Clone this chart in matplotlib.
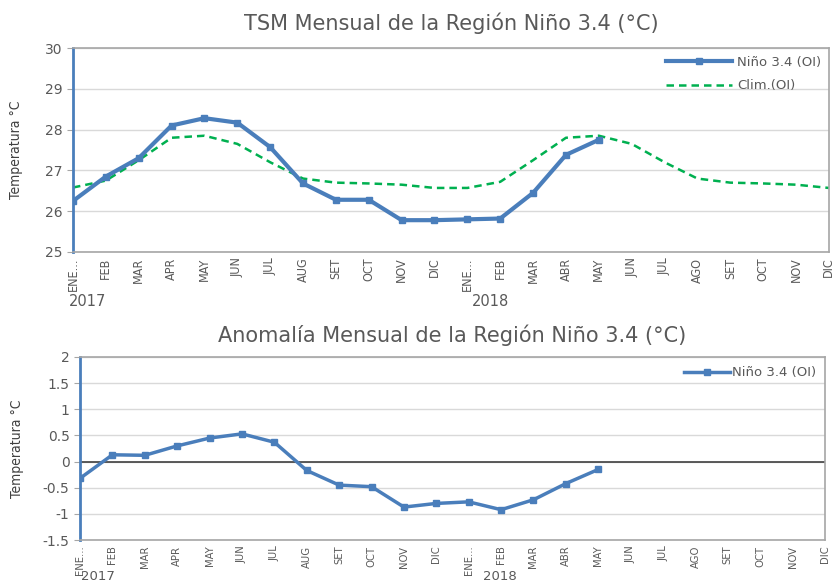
"""
TSM y anomalia mensual de la Region Nino 3.4
"""
import numpy as np
import matplotlib
matplotlib.use('Agg')
import matplotlib.pyplot as plt
from matplotlib import font_manager

# Etiquetas de meses (ene 2017 - dic 2018)
months = ['ENE...', 'FEB', 'MAR', 'APR', 'MAY', 'JUN', 'JUL', 'AUG', 'SET', 'OCT', 'NOV', 'DIC',
          'ENE...', 'FEB', 'MAR', 'ABR', 'MAY', 'JUN', 'JUL', 'AGO', 'SET', 'OCT', 'NOV', 'DIC']
years = ['2017', '2018']

# TSM observada (OI), ene 2017 - may 2018
tsm = [26.25, 26.85, 27.3, 28.1, 28.28, 28.17, 27.57, 26.68, 26.28, 26.28, 25.78, 25.78,
       25.8, 25.82, 26.45, 27.38, 27.75]

# Climatologia (OI)
clim = [26.58, 26.75, 27.25, 27.8, 27.85, 27.65, 27.2, 26.8, 26.7, 26.68, 26.65, 26.57,
        26.57, 26.72, 27.25, 27.8, 27.85, 27.65, 27.2, 26.8, 26.7, 26.68, 26.65, 26.57]

# Anomalia
anom = [-0.32, 0.13, 0.12, 0.3, 0.45, 0.53, 0.37, -0.17, -0.45, -0.48, -0.87, -0.8,
        -0.77, -0.92, -0.73, -0.42, -0.15]

blue = '#4A7EBB'
green = '#00B050'
gray_txt = '#595959'

# fuente estrecha si existe
names = set(f.name for f in font_manager.fontManager.ttflist)
narrow = [n for n in ['Liberation Sans Narrow', 'Arial Narrow'] if n in names] + ['DejaVu Sans']
nstretch = 'condensed'

fig = plt.figure(figsize=(8.38, 5.84), dpi=100)
ax1 = fig.add_axes([0.0871, 0.5685, 0.902, 0.3493])
ax2 = fig.add_axes([0.0955, 0.0753, 0.889, 0.3134])

x_all = np.arange(len(months))


def style_axis(ax, tick_fs):
    ax.set_xlim(0, len(months) - 1)
    ax.set_xticks(x_all)
    ax.set_xticklabels(months, rotation=90, fontsize=tick_fs, family=narrow, stretch=nstretch,
                       color=gray_txt)
    ax.tick_params(axis='x', length=0, pad=4)
    ax.tick_params(axis='y', length=4, color='#A6A6A6', labelsize=10, labelcolor=gray_txt)
    ax.grid(axis='y', color='#D9D9D9', lw=1)
    ax.set_axisbelow(True)
    for s in ['top', 'right', 'bottom']:
        ax.spines[s].set_color('#A6A6A6')
        ax.spines[s].set_linewidth(1.2)
    ax.spines['left'].set_color(blue)
    ax.spines['left'].set_linewidth(2)
    ax.set_ylabel('Temperatura °C', family=narrow, stretch=nstretch, fontsize=10, color='#404040')


# Grafico superior: TSM
ax1.plot(np.arange(len(clim)), clim, color=green, lw=1.8, ls=(0, (3, 2)), label='Clim.(OI)')
ax1.plot(np.arange(len(tsm)), tsm, color=blue, lw=3, marker='s', ms=5, label='Niño 3.4 (OI)')
ax1.set_ylim(25, 30)
ax1.set_yticks([25, 26, 27, 28, 29, 30])
style_axis(ax1, 9)
ax1.yaxis.set_label_coords(-0.066, 0.5)
h, l = ax1.get_legend_handles_labels()
ax1.legend(h[::-1], l[::-1], loc='upper right', frameon=False, fontsize=9.5, handlelength=5,
           labelcolor=gray_txt, borderaxespad=0.2, labelspacing=0.8, handletextpad=0.4)
ax1.set_title('TSM Mensual de la Región Niño 3.4 (°C)', fontsize=15, color=gray_txt, pad=13)

# Grafico inferior: anomalia
ax2.axhline(0, color='#404040', lw=1.2, zorder=1)
ax2.plot(np.arange(len(anom)), anom, color=blue, lw=2.5, marker='s', ms=4.5, label='Niño 3.4 (OI)')
ax2.set_ylim(-1.5, 2)
ax2.set_yticks([-1.5, -1, -0.5, 0, 0.5, 1, 1.5, 2])
ax2.set_yticklabels(['-1.5', '-1', '-0.5', '0', '0.5', '1', '1.5', '2'])
style_axis(ax2, 8)
ax2.yaxis.set_label_coords(-0.075, 0.5)
ax2.legend(loc='upper right', frameon=False, fontsize=9.5, handlelength=3.5,
           labelcolor=gray_txt, borderaxespad=0.3, handletextpad=0.1)
ax2.set_title('Anomalía Mensual de la Región Niño 3.4 (°C)', fontsize=15, color=gray_txt, pad=11)

# Etiquetas de anio
fig.text(88 / 838, 1 - 302 / 584, years[0], fontsize=10.5, color=gray_txt, ha='center', va='center')
fig.text(490 / 838, 1 - 302 / 584, years[1], fontsize=10.5, color=gray_txt, ha='center', va='center')
fig.text(98 / 838, 1.5 / 584, years[0], fontsize=9.5, color=gray_txt, ha='center', va='bottom')
fig.text(500 / 838, 1.5 / 584, years[1], fontsize=9.5, color=gray_txt, ha='center', va='bottom')

fig.savefig('out.png', dpi=100)
